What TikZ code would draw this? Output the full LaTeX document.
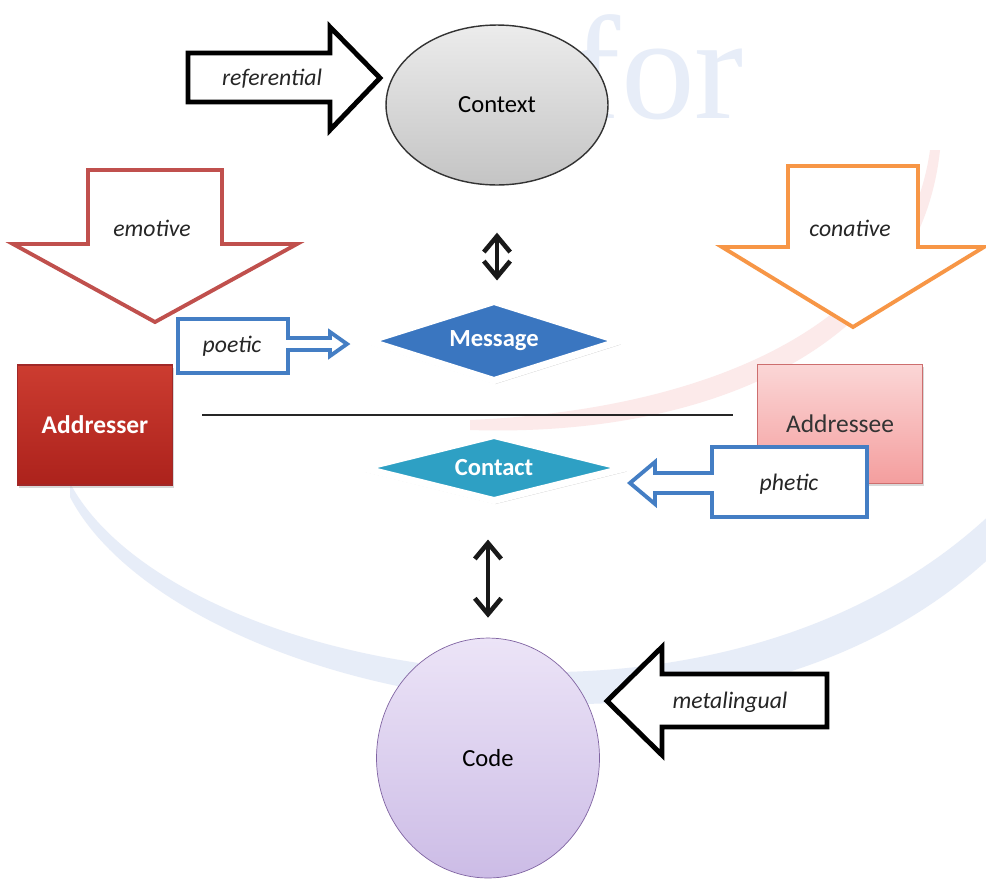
\documentclass[tikz,border=0pt]{standalone}
\usepackage{xcolor}
\usepackage{fontspec}
\setmainfont{Carlito}
\newfontfamily\markfont{Liberation Serif}
\usepackage{tikz}
\usetikzlibrary{shapes, arrows.meta, positioning, shadows}

\definecolor{emotivered}{RGB}{192,80,77}
\definecolor{conativeorange}{RGB}{247,150,70}
\definecolor{calloutblue}{RGB}{68,126,196}
\definecolor{messageblue}{RGB}{58,118,192}
\definecolor{contactteal}{RGB}{46,160,196}
\definecolor{sendertop}{RGB}{204,60,48}
\definecolor{senderbot}{RGB}{172,34,28}
\definecolor{senderedge}{RGB}{160,40,40}
\definecolor{receivertop}{RGB}{251,214,214}
\definecolor{receiverbot}{RGB}{244,158,158}
\definecolor{receiveredge}{RGB}{205,110,110}
\definecolor{codetop}{RGB}{236,228,247}
\definecolor{codebot}{RGB}{204,188,230}
\definecolor{codeedge}{RGB}{128,100,162}
\definecolor{contexttop}{RGB}{236,236,236}
\definecolor{contextbot}{RGB}{196,196,196}
\definecolor{markblue}{RGB}{231,237,248}
\definecolor{markpink}{RGB}{252,234,234}

\begin{document}
\begin{tikzpicture}
  [
    x=0.02cm, y=-0.02cm,
    Oval/.style={ellipse, draw=black!80, thick, inner sep=0pt, font=\fontsize{14}{16}\selectfont},
    Gem/.style={diamond, aspect=3, draw=white, line width=4pt, inner sep=0pt, text=white,
      font=\bfseries\fontsize{14}{16}\selectfont,
      drop shadow={opacity=0.4, shadow xshift=0.8pt, shadow yshift=-2pt}},
    Party/.style={rectangle, thick, inner sep=0pt, font=\fontsize{14.5}{16}\selectfont,
      drop shadow={opacity=0.3, shadow xshift=1pt, shadow yshift=-1.6pt}},
    Tag/.style={font=\itshape\fontsize{13.5}{15}\selectfont, text=black!85},
    Block/.style={fill=white, line join=miter},
    Swap/.style={{Straight Barb[length=9pt, width=15pt]}-{Straight Barb[length=9pt, width=15pt]},
      line width=2.6pt, black!90}
  ]
  \path[use as bounding box, fill=white] (0, 0) rectangle (986, 880);
  % Watermark
  \fill[markblue] (70, 483) .. controls (170, 672) and (720, 782) .. (1000, 505)
    -- (1000, 548) .. controls (720, 822) and (170, 690) .. (70, 497) -- cycle;
  \fill[markpink] (930, 150) .. controls (905, 330) and (700, 410) .. (470, 420)
    -- (470, 430) .. controls (720, 438) and (920, 340) .. (940, 150) -- cycle;
  \node[anchor=base, text=markblue, font=\markfont\fontsize{84}{90}\selectfont] (mark) at(658, 118) {for};
  % Arrows
  \draw[Block, draw=black, line width=2.8pt]
    (188, 53) -- (330, 53) -- (330, 27) -- (380, 78) -- (330, 130) -- (330, 102) -- (188, 102) -- cycle;
  \draw[Block, draw=emotivered, line width=2.2pt]
    (88, 170) -- (222, 170) -- (222, 244) -- (297, 244) -- (155, 322) -- (13, 244) -- (88, 244) -- cycle;
  \draw[Block, draw=conativeorange, line width=2.2pt]
    (788, 166) -- (918, 166) -- (918, 247) -- (984, 247) -- (853, 327) -- (722, 247) -- (788, 247) -- cycle;
  \draw[Block, draw=black, line width=2.8pt]
    (827, 674) -- (662, 674) -- (662, 647) -- (607, 701) -- (662, 755) -- (662, 727) -- (827, 727) -- cycle;
  \node[Tag] (referential) at(272, 79) {referential};
  \node[Tag] (emotive) at(152, 228) {emotive};
  \node[Tag] (conative) at(850, 228) {conative};
  \node[Tag] (metalingual) at(730, 702) {metalingual};
  % Nodes
  \node[Oval, top color=contexttop, bottom color=contextbot,
    minimum width=4.44cm, minimum height=3.2cm] (context) at(497, 105) {Context};
  \node[Oval, draw=codeedge, thin, top color=codetop, bottom color=codebot,
    minimum width=4.46cm, minimum height=4.8cm] (code) at(488, 758) {Code};
  \node[Gem, fill=messageblue, minimum width=5.08cm, minimum height=1.64cm] (message) at(494, 341) {Message};
  \node[Gem, fill=contactteal, minimum width=5.32cm, minimum height=1.36cm] (contact) at(494, 468) {Contact};
  \node[Party, draw=senderedge, top color=sendertop, bottom color=senderbot, text=white,
    font=\bfseries\fontsize{14.5}{16}\selectfont,
    minimum width=3.1cm, minimum height=2.4cm] (addresser) at(95, 425) {Addresser};
  \node[Party, draw=receiveredge, top color=receivertop, bottom color=receiverbot, text=black!80,
    minimum width=3.3cm, minimum height=2.38cm] (addressee) at(840, 424) {Addressee};
  % Callouts
  \draw[Block, draw=calloutblue, line width=2.2pt]
    (178, 319) -- (288, 319) -- (288, 338) -- (330, 338) -- (330, 332) -- (347, 344)
    -- (330, 356) -- (330, 350) -- (288, 350) -- (288, 373) -- (178, 373) -- cycle;
  \draw[Block, draw=calloutblue, line width=2.2pt]
    (867, 447) -- (712, 447) -- (712, 473) -- (655, 473) -- (655, 462) -- (630, 483)
    -- (655, 504) -- (655, 493) -- (712, 493) -- (712, 517) -- (867, 517) -- cycle;
  \node[Tag] (poetic) at(232, 346) {poetic};
  \node[Tag] (phetic) at(789, 484) {phetic};
  % Lines
  \coordinate (lineL) at(202, 415);
  \coordinate (lineR) at(733, 415);
  \path [draw, line width=1pt, black!85] (lineL) -- (lineR);
  \path [Swap, draw, shorten <=0.94cm, shorten >=0.32cm] (context.south) -- (context.south |- message.north);
  \path [Swap, draw, shorten <=0.68cm, shorten >=0.4cm] (code.north |- contact.south) -- (code.north);
\end{tikzpicture}
\end{document}
